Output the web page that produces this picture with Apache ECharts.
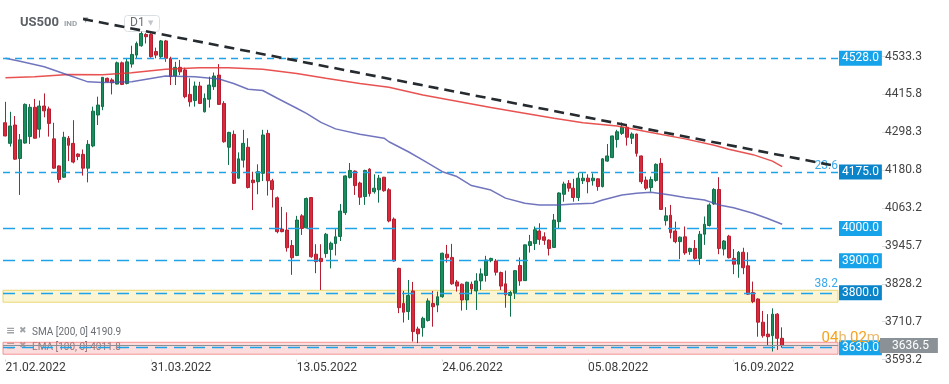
<!DOCTYPE html>
<html><head><meta charset="utf-8">
<script src="https://cdn.jsdelivr.net/npm/echarts@6/dist/echarts.min.js"></script>
<style>html,body{margin:0;padding:0;background:#fff}#c{width:949px;height:384px}</style>
</head><body><div id="c"></div>
<script>
// ---- data ----
const tickLabels = ['21.02.2022','31.03.2022','13.05.2022','24.06.2022','05.08.2022','16.09.2022'];
const labelEvery = 30;
const emptyBars = 11;
const yTickLabels = ['3593.2','3710.7','3828.2','3945.7','4063.2','4180.8','4298.3','4415.8','4533.3'];
// [open, close, low, high]
const ohlc = [
[4328,4287,4286,4393],[4264,4318,4254,4362],[4321,4215,4213,4349],[4217,4275,4104,4293],[4265,4385,4263,4388],
[4285,4376,4262,4386],[4376,4280,4279,4402],[4308,4380,4282,4397],[4380,4365,4345,4419],[4371,4326,4285,4378],
[4278,4187,4185,4328],[4194,4152,4142,4196],[4159,4283,4157,4300],[4280,4258,4209,4287],[4264,4206,4202,4336],
[4231,4223,4212,4233],[4230,4187,4164,4245],[4187,4261,4143,4274],[4256,4364,4252,4378],[4352,4383,4321,4409],
[4378,4469,4367,4470],[4466,4455,4453,4468],[4461,4452,4416,4466],[4448,4514,4447,4518],[4514,4447,4445,4518],
[4450,4517,4447,4526],[4510,4540,4499,4567],[4538,4574,4528,4580],[4567,4605,4564,4611],[4602,4595,4574,4606],
[4602,4533,4530,4606],[4549,4538,4528,4561],[4533,4582,4528,4585],[4582,4528,4517,4585],[4528,4471,4445,4533],
[4473,4500,4445,4517],[4500,4486,4476,4523],[4492,4409,4404,4499],[4416,4393,4378,4466],[4397,4442,4378,4456],
[4442,4388,4386,4455],[4362,4404,4360,4419],[4401,4445,4375,4471],[4440,4473,4430,4484],[4476,4385,4383,4510],
[4388,4269,4266,4395],[4252,4298,4197,4300],[4292,4140,4138,4304],[4156,4216,4154,4236],[4212,4264,4189,4306],
[4252,4127,4124,4280],[4150,4142,4057,4176],[4145,4176,4106,4199],[4171,4290,4147,4306],[4295,4148,4102,4306],
[4148,4121,4065,4154],[4095,3990,3985,4099],[3998,3990,3988,4067],[3995,3940,3928,4050],[3947,3909,3856,3964],
[3916,4026,3914,4039],[4039,4000,3980,4044],[4002,4093,4000,4096],[4096,3912,3909,4097],[3920,3897,3861,3951],
[3907,3897,3809,3951],[3922,3982,3909,3986],[3935,3954,3876,3959],[3953,3974,3916,3998],[3975,4054,3961,4076],
[4049,4163,4042,4165],[4158,4180,4155,4203],[4178,4133,4104,4180],[4141,4097,4073,4145],[4099,4180,4073,4182],
[4184,4108,4099,4187],[4114,4125,4108,4168],[4120,4156,4080,4166],[4159,4117,4114,4160],[4120,4023,4019,4125],
[4029,3899,3897,4034],[3876,3754,3737,3878],[3767,3740,3708,3806],[3742,3792,3716,3840],[3806,3680,3649,3834],
[3688,3673,3644,3695],[3692,3721,3664,3726],[3714,3775,3711,3783],[3767,3757,3695,3806],[3762,3788,3740,3804],
[3788,3923,3785,3925],[3920,3909,3894,3949],[3910,3828,3825,3952],[3834,3821,3804,3840],[3827,3778,3745,3829],
[3778,3833,3747,3835],[3827,3812,3796,3835],[3806,3837,3747,3861],[3837,3859,3809,3876],[3854,3902,3835,3915],
[3900,3907,3895,3909],[3899,3864,3854,3905],[3863,3821,3809,3866],[3828,3794,3754,3869],[3792,3801,3726,3806],
[3799,3869,3781,3871],[3885,3837,3822,3910],[3838,3949,3837,3950],[3947,3959,3925,3980],[3953,3996,3933,4006],
[3992,3966,3949,4016],[3974,3963,3949,3988],[3964,3938,3916,3966],[3941,4026,3939,4045],[4021,4110,3998,4112],
[4106,4138,4083,4145],[4140,4125,4114,4150],[4125,4096,4083,4154],[4096,4156,4085,4173],[4148,4156,4138,4173],
[4156,4145,4109,4168],[4148,4156,4133,4171],[4154,4130,4117,4156],[4130,4216,4127,4218],[4209,4225,4207,4262],
[4220,4287,4218,4288],[4276,4300,4251,4306],[4295,4314,4290,4329],[4314,4283,4257,4324],[4280,4293,4262,4298],
[4293,4233,4223,4294],[4225,4145,4138,4226],[4150,4125,4119,4161],[4127,4152,4114,4161],[4149,4199,4145,4202],
[4202,4059,4057,4218],[4024,4039,4009,4066],[4041,3987,3969,4073],[3992,3959,3954,4021],[3959,3973,3905,3975],
[3974,3924,3918,4006],[3928,3938,3918,3940],[3938,3907,3899,3964],[3907,3982,3887,3992],[3982,4013,3949,4037],
[4009,4073,4006,4078],[4076,4121,4073,4125],[4121,3938,3920,4159],[3936,3961,3916,3964],[3976,3909,3907,3980],
[3907,3889,3858,3936],[3889,3926,3847,3930],[3926,3878,3858,3940],[3884,3796,3794,3926],[3801,3773,3768,3835],
[3781,3709,3664,3783],[3709,3667,3661,3744],[3672,3664,3638,3734],[3667,3734,3618,3752],[3734,3659,3623,3737],
[3659,3636.5,3630,3693]
];
// moving averages: [bar index, value]
const smaPoints = [[0,4468],[6,4471],[13,4478],[20,4477],[26,4483],[33,4494],[40,4499],[46,4499],[53,4494],
[60,4481],[66,4466],[73,4450],[79,4438],[86,4414],[93,4395],[100,4375],[106,4360],[113,4342],[119,4328],
[126,4318],[133,4298],[140,4278],[146,4258],[149,4246],[154,4229],[158,4209],[160,4192]];
const emaPoints = [[0,4528],[3,4519],[8,4502],[12,4481],[17,4455],[20,4453],[26,4455],[33,4473],[39,4471],
[44,4464],[47,4450],[50,4432],[53,4428],[56,4404],[60,4373],[62,4357],[65,4329],[68,4309],[73,4292],[78,4280],
[79,4269],[83,4238],[86,4212],[90,4176],[93,4161],[96,4133],[100,4119],[103,4094],[107,4078],[110,4073],
[114,4073],[117,4076],[121,4078],[123,4088],[127,4104],[130,4109],[133,4112],[137,4104],[140,4096],[144,4088],
[147,4073],[150,4064],[154,4047],[157,4031],[160,4013]];
const trendLine = [[16,4650],[171,4194]];
const levels = [4528,4175,4000,3900,3800,3630];
const levelBox = ['#17a3ea','#0b84c9','#17a3ea','#17a3ea','#0b84c9','#17a3ea'];
const levelDash = [[7,5],[7,5],[12,7],[12,7],[12,7],[12,7]];
const fibLabels = [['23.6',4175],['38.2',3808]];
const yellowZone = [3771,3808];
const redZone = [3609.5,3646.6];
const lastPrice = 3636.5;
const smaLegend = 'SMA [200, 0] 4190.9';
const emaLegend = 'EMA [100, 0] 4011.8';

const categories = Array.from({length: ohlc.length + emptyBars}, (_, i) => String(i));
const yTickValues = yTickLabels.map(s => parseFloat(s));
const chart = echarts.init(document.getElementById('c'), null, {renderer:'canvas'});
const FF = 'Roboto';

const levelMarks = levels.map((v, i) => ({
  yAxis: v,
  lineStyle: {type: levelDash[i], color: '#1ea2e8', width: 1.3},
  label: {show: true, position: 'end', distance: 1, formatter: p => Number(p.value).toFixed(1),
    color: '#fff', backgroundColor: levelBox[i], padding: [2, 3, 1, 3], fontSize: 12, fontFamily: FF}
}));
const fibMarks = fibLabels.map(f => ({
  yAxis: f[1], lineStyle: {color: 'rgba(0,0,0,0)', width: 0.01},
  label: {show: true, position: 'insideEndTop', distance: 0, formatter: f[0], color: '#3aa9ea', fontSize: 12, fontFamily: FF}
}));
const priceMark = {
  yAxis: lastPrice, lineStyle: {type: 'solid', color: '#8b9095', width: 1},
  label: {show: true, position: 'end', distance: 42, formatter: p => Number(p.value).toFixed(1),
    color: '#fff', backgroundColor: '#8b9297', padding: [2, 9, 1, 12], fontSize: 12, fontFamily: FF}
};

chart.setOption({
  animation: false,
  backgroundColor: '#fff',
  textStyle: {fontFamily: FF},
  grid: {left: 3, right: 111, top: 0, bottom: 24.5},
  xAxis: {
    type: 'category', data: categories, boundaryGap: true,
    axisLine: {show: false},
    axisTick: {show: true, interval: labelEvery - 1, alignWithLabel: true, length: 2, lineStyle: {color: '#d5d5d5'}},
    axisLabel: {interval: labelEvery - 1, align: 'left', margin: 2, color: '#3a3a3a', fontSize: 12, fontFamily: FF,
      formatter: (v, idx) => (idx % labelEvery === 0 ? (tickLabels[idx / labelEvery] || '') : '')},
    splitLine: {show: false}
  },
  yAxis: {
    type: 'value', position: 'right', offset: 44,
    min: 3593.2, max: 4709,
    axisLine: {show: false},
    axisTick: {show: true, length: 5, customValues: yTickValues, lineStyle: {color: '#dcdcdc'}},
    splitLine: {show: false},
    axisLabel: {margin: 3, color: '#444', fontSize: 12, fontFamily: FF, customValues: yTickValues,
      formatter: v => yTickLabels[yTickValues.indexOf(v)] || ''}
  },
  series: [
    {
      type: 'candlestick', data: ohlc, barWidth: 3.4, z: 3,
      itemStyle: {color: '#1b8c5c', color0: '#d92a3c', borderColor: '#10704a', borderColor0: '#b51e30', borderWidth: 1}
    },
    {type: 'line', data: smaPoints, showSymbol: false, connectNulls: true, z: 4, silent: true,
      lineStyle: {color: 'rgba(228,52,50,0.85)', width: 1.5}},
    {type: 'line', data: emaPoints, showSymbol: false, connectNulls: true, z: 4, silent: true,
      lineStyle: {color: 'rgba(78,82,172,0.8)', width: 1.5}},
    {type: 'line', data: trendLine, showSymbol: false, z: 6, silent: true,
      lineStyle: {color: '#262b30', width: 2.6, type: [10, 6]},
      markLine: {symbol: 'none', silent: true, data: [...levelMarks, ...fibMarks, priceMark]}
    },
    {type: 'line', data: [], z: 7, silent: true,
      markArea: {silent: true, data: [
        [{yAxis: yellowZone[1], itemStyle: {color: 'rgba(244,226,120,0.33)', borderColor: 'rgba(232,212,100,0.9)', borderWidth: 1}}, {yAxis: yellowZone[0]}],
        [{yAxis: redZone[1], itemStyle: {color: 'rgba(246,140,140,0.3)', borderColor: 'rgba(240,120,120,0.75)', borderWidth: 1}}, {yAxis: redZone[0]}]
      ]}
    }
  ],
  graphic: [
    {type: 'text', left: 20, top: 16, style: {text: 'US500', font: 'bold 13px Roboto', fill: '#5c6166'}},
    {type: 'text', left: 64, top: 20, style: {text: 'IND', font: 'bold 8px Roboto', fill: '#9ba1a6'}},
    {type: 'text', left: 83, top: 17, style: {text: '▼', font: '7px DejaVu Sans', fill: '#8d9296'}},
    {type: 'rect', left: 124, top: 15, z: -1, shape: {width: 35, height: 16, r: 3}, style: {fill: '#fff', stroke: '#dcdfe2', lineWidth: 1}},
    {type: 'text', left: 130, top: 17, style: {text: 'D1', font: '12px Roboto', fill: '#6b7075'}},
    {type: 'text', left: 148, top: 20, style: {text: '▼', font: '7px DejaVu Sans', fill: '#c2c6ca'}},
    {type: 'text', left: 6, top: 326, style: {text: '≡', font: 'bold 11px DejaVu Sans', fill: '#a0a4a8'}},
    {type: 'text', left: 19, top: 326, style: {text: '✖', font: '9px DejaVu Sans', fill: '#a0a4a8'}},
    {type: 'text', left: 32, top: 327, style: {text: smaLegend, font: '10px Roboto', fill: '#6a6e72'}},
    {type: 'text', left: 6, top: 341, style: {text: '≡', font: 'bold 11px DejaVu Sans', fill: '#a0a4a8'}},
    {type: 'text', left: 19, top: 341, style: {text: '✖', font: '9px DejaVu Sans', fill: '#a0a4a8'}},
    {type: 'text', left: 32, top: 342, style: {text: emaLegend, font: '10px Roboto', fill: '#6a6e72'}},
    {type: 'text', right: 69, top: 331, z: 10, style: {
      text: '{a|04}{b|h} {a|02}{b|m}',
      rich: {a: {fontSize: 15, fill: '#f5a21c', fontFamily: FF}, b: {fontSize: 15, fill: '#e9b96e', fontFamily: FF}}
    }}
  ]
});
</script></body></html>
